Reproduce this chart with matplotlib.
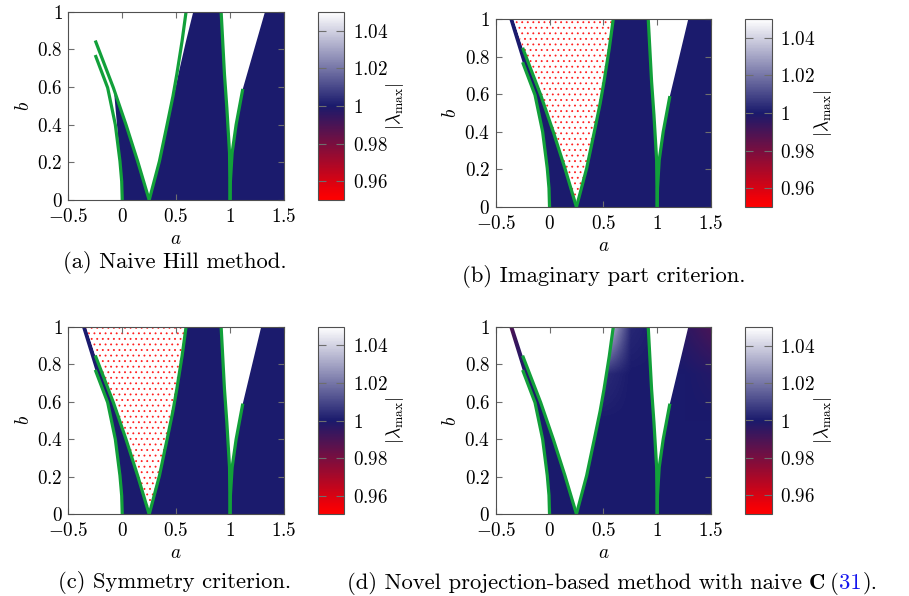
import matplotlib
matplotlib.use('Agg')

import numpy as np
import matplotlib.pyplot as plt
from matplotlib.colors import LinearSegmentedColormap, Normalize
from matplotlib.patches import Polygon
from matplotlib.cm import ScalarMappable

plt.rcParams['font.family'] = 'serif'
plt.rcParams['font.serif'] = ['cmr10']
plt.rcParams['mathtext.fontset'] = 'cm'
plt.rcParams['axes.formatter.use_mathtext'] = True
plt.rcParams['hatch.linewidth'] = 0.6

# transition curves
lower_a = [0.0, -0.005, -0.021, -0.064, -0.135, -0.25]
lower_b = [0.0, 0.1, 0.206, 0.40, 0.596, 0.77]
upper_a = [0.25, 0.143, 0.035, -0.082, -0.25]
upper_b = [0.0, 0.206, 0.40, 0.596, 0.847]
right_a = [0.25, 0.345, 0.416, 0.47, 0.506, 0.555, 0.592]
right_b = [0.0, 0.206, 0.40, 0.55, 0.667, 0.844, 1.0]
desc_a = [1.0, 0.998, 0.995, 0.97, 0.948, 0.917]
desc_b = [0.0, 0.1, 0.25, 0.49, 0.667, 1.0]
asc_a = [1.0, 1.003, 1.019, 1.056, 1.118]
asc_b = [0.0, 0.1, 0.25, 0.40, 0.59]

# edges of the stable strip where it meets b = 1
strip_top_a = [-0.374, -0.336]
# right edge of the white wedge at b = 1, per panel
wedge_top_a = [1.324, 1.289, 1.289, 1.289]

# naive Hill method: stable region is cut short
naive_left_a = [0.0, -0.021, -0.027, -0.076]
naive_left_b = [0.0, 0.206, 0.26, 0.577]
naive_mid_a = [0.455, 0.52, 0.591, 0.659]
naive_mid_b = [0.49, 0.666, 0.843, 1.0]

# |lambda_max| estimates for panel (d)
d_grid_a = [-0.5, -0.25, 0.0, 0.25, 0.5, 0.75, 1.0, 1.25, 1.5]
d_grid_b = [0.0, 0.25, 0.5, 0.75, 1.0]
d_values = [
    [1.0, 1.0, 1.0, 1.0, 1.0, 1.0, 1.0, 1.0, 1.0],
    [1.0, 1.0, 1.0, 1.0, 1.0, 1.0, 1.0, 1.0, 1.0],
    [1.0, 1.0, 1.0, 1.0, 1.0, 1.0, 1.0, 1.0, 1.0],
    [0.996, 0.998, 1.0, 1.0, 1.004, 1.0, 1.0, 1.0, 0.998],
    [0.982, 0.995, 1.0, 1.0, 1.045, 1.003, 1.0, 0.996, 0.99],
]

x_ticks = [-0.5, 0, 0.5, 1, 1.5]
x_labels = ['$-0.5$', '$0$', '$0.5$', '$1$', '$1.5$']
y_ticks = [0, 0.2, 0.4, 0.6, 0.8, 1]
y_labels = ['$0$', '$0.2$', '$0.4$', '$0.6$', '$0.8$', '$1$']
cb_ticks = [0.96, 0.98, 1.0, 1.02, 1.04]
cb_labels = ['$0.96$', '$0.98$', '$1$', '$1.02$', '$1.04$']

captions = ['(a) Naive Hill method.', '(b) Imaginary part criterion.',
            '(c) Symmetry criterion.']

GREEN = '#12a03a'
NAVY = '#1a1a6c'
GRAY = '#6e6e6e'
W, H = 909, 596
FS_TICK = 13.8
FS_CAP = 16.3

cmap = LinearSegmentedColormap.from_list(
    'lam', [(0.0, '#ff0000'), (0.05, '#ee0008'), (0.5, NAVY), (1.0, '#ffffff')])
norm = Normalize(0.95, 1.05)


def px(l, t, r, b):
    return [l / W, 1 - b / H, (r - l) / W, (b - t) / H]


def stable_polys(naive, wtop):
    lo = list(zip(lower_a, lower_b))
    up = list(zip(upper_a, upper_b))
    rt = list(zip(right_a, right_b))
    de = list(zip(desc_a, desc_b))
    if naive:
        left = list(zip(naive_left_a, naive_left_b)) + \
            [p for p in reversed(up) if p[1] < naive_left_b[-1]]
        mid = [p for p in rt if p[1] < naive_mid_b[0]] + \
            list(zip(naive_mid_a, naive_mid_b)) + list(reversed(de))
    else:
        left = lo + [(strip_top_a[0], 1), (strip_top_a[1], 1)] + list(reversed(up))
        mid = rt + list(reversed(de))
    rpoly = list(zip(asc_a, asc_b)) + [(wtop, 1), (1.5, 1), (1.5, 0)]
    return [left, mid, rpoly]


def speckle_poly():
    up = list(zip(upper_a, upper_b))
    rt = list(zip(right_a, right_b))
    return up + [(strip_top_a[1], 1), (right_a[-1], 1)] + list(reversed(rt))


fig = plt.figure(figsize=(W / 100, H / 100), dpi=100)

ax_boxes = [(68.3, 11.7, 284, 200), (495.7, 19, 711, 207),
            (68.3, 326.7, 284, 514.3), (495.7, 327, 711, 514)]
cb_boxes = [(317.7, 11.7, 344.3, 200), (745, 19, 772, 207),
            (317.7, 326.7, 344.3, 514.3), (745, 327, 772, 514)]

for i in range(4):
    ax = fig.add_axes(px(*ax_boxes[i]))
    polys = stable_polys(i == 0, wedge_top_a[i])
    if i == 3:
        ext = [d_grid_a[0] - 0.125, d_grid_a[-1] + 0.125,
               d_grid_b[0] - 0.125, d_grid_b[-1] + 0.125]
        for poly in polys:
            im = ax.imshow(np.array(d_values), cmap=cmap, norm=norm, origin='lower',
                           extent=ext, aspect='auto', interpolation='bilinear', zorder=1)
            im.set_clip_path(Polygon(poly, closed=True, transform=ax.transData))
    else:
        for poly in polys:
            ax.add_patch(Polygon(poly, closed=True, facecolor=cmap(norm(1.0)),
                                 edgecolor='none', zorder=1))
    if i in (1, 2):
        ax.add_patch(Polygon(speckle_poly(), closed=True, facecolor='white',
                             edgecolor='#ff2020', linewidth=0, hatch='...', zorder=1))

    for ca, cb in [(lower_a, lower_b), (upper_a, upper_b), (right_a, right_b),
                   (desc_a, desc_b), (asc_a, asc_b)]:
        ax.plot(ca, cb, color=GREEN, lw=2.3, solid_capstyle='butt', zorder=3)

    ax.set_xlim(-0.5, 1.5)
    ax.set_ylim(0, 1)
    ax.set_xticks(x_ticks)
    ax.set_xticklabels(x_labels)
    ax.set_yticks(y_ticks)
    ax.set_yticklabels(y_labels)
    ax.tick_params(direction='in', length=4, width=0.8, color=GRAY,
                   top=True, right=True, labelsize=FS_TICK, pad=4)
    ax.tick_params(axis='x', pad=5.5)
    for s in ax.spines.values():
        s.set_color('#505050')
        s.set_linewidth(0.8)
        s.set_zorder(4)
    ax.set_xlabel('$a$', fontsize=FS_TICK, labelpad=3)
    ax.set_ylabel('$b$', fontsize=FS_TICK, labelpad=3)

    cax = fig.add_axes(px(*cb_boxes[i]))
    cbar = fig.colorbar(ScalarMappable(norm=norm, cmap=cmap), cax=cax)
    cbar.set_ticks(cb_ticks)
    cbar.set_ticklabels(cb_labels)
    cbar.outline.set_edgecolor('#505050')
    cbar.outline.set_linewidth(0.8)
    cax.tick_params(direction='in', length=6, width=0.8, color=GRAY,
                    left=True, right=True, labelsize=FS_TICK, pad=6)
    cax.minorticks_off()
    cbar.set_label(r'$|\lambda_{\max}|$', fontsize=FS_TICK, labelpad=-3)

fig.text(175 / W, 1 - 263 / H, captions[0], ha='center', va='center', fontsize=FS_CAP)
fig.text(462 / W, 1 - 277 / H, captions[1], ha='left', va='center', fontsize=FS_CAP)
fig.text(175 / W, 1 - 583 / H, captions[2], ha='center', va='center', fontsize=FS_CAP)

# caption (d) with a coloured reference number
fig.canvas.draw()
rend = fig.canvas.get_renderer()
x = 347 / W
y = 1 - 589 / H
parts = [('(d) Novel projection-based method with naive', 'black', 5.5),
         (r'$\mathbf{C}$', 'black', 5.5), ('(', 'black', 0.5),
         ('31', '#1515ee', 0.5), (').', 'black', 0)]
for s, c, gap in parts:
    t = fig.text(x, y, s, color=c, ha='left', va='baseline', fontsize=FS_CAP)
    bb = t.get_window_extent(rend)
    x = (bb.x1 + gap) / W

fig.savefig('out.png', dpi=100)
